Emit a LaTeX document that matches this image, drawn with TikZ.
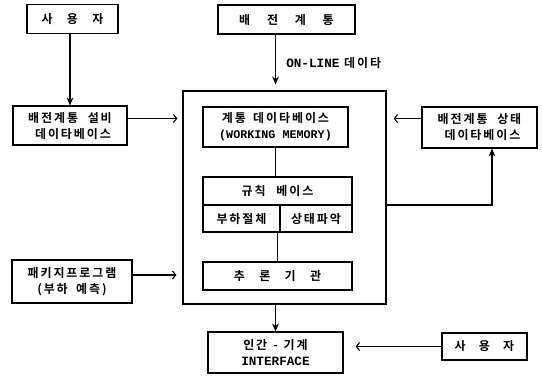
\documentclass[tikz,border=0pt]{standalone}
\usepackage{fontspec}
\setmainfont{Noto Sans CJK KR}[BoldFont={* Bold},LetterSpace=16]
\newfontfamily\mono{Liberation Mono}
\usetikzlibrary{arrows.meta,calc}
\begin{document}
\begin{tikzpicture}[x=0.75pt,y=-0.75pt,
  every node/.style={font=\fontsize{9}{12}\selectfont\bfseries},
  box/.style n args={2}{draw, line width=0.8pt, inner sep=0pt, align=center,
     minimum width=#1*0.75pt, minimum height=#2*0.75pt},
  conn/.style={line width=0.8pt},
  down/.style={conn,-{Stealth[length=6pt,width=5pt]}},
  chev/.style={conn,-{Straight Barb[length=2.5pt,width=6pt,line width=0.8pt]}}]
\useasboundingbox (0,0) rectangle (542,376);
% boxes
\node[box={91}{29}] (u1) at (72.5,19) {사\hspace{1.2em}용\hspace{1.2em}자};
\node[box={114}{39}] (eq) at (70,125.5) {배전계통\hspace{0.8em}설비\\\hspace{0.5em}데이타베이스};
\node[box={137}{29}] (pw) at (286.5,19.5) {배\hspace{1.4em}전\hspace{1.4em}계\hspace{1.4em}통};
\node[box={203}{213}] (big) at (284.5,197.5) {};
\node[box={145}{40}] (wm) at (275.5,127) {계통\hspace{0.6em}데이타베이스\\{\mono\fontsize{8.8}{12}\selectfont (WORKING MEMORY)}};
\node[box={149}{28}] (rule) at (277.5,191) {규칙\hspace{0.9em}베이스};
\node[box={77}{27}] (sub1) at (241.5,218.5) {부하절체};
\node[box={72}{27}] (sub2) at (316,218.5) {상태파악};
\node[box={149}{28}] (inf) at (277.5,276) {추\hspace{1.2em}론\hspace{1.2em}기\hspace{1.2em}관};
\node[box={135}{41}] (hmi) at (275.5,352.5) {인간\hspace{0.5em}-\hspace{0.5em}기계\\{\mono\fontsize{9.5}{12}\selectfont INTERFACE}};
\node[box={85}{27}] (u2) at (484.5,346.5) {사\hspace{1.1em}용\hspace{1.1em}자};
\node[box={115}{41}] (st) at (479.5,127.5) {배전계통\hspace{0.8em}상태\\\hspace{0.5em}데이타베이스};
\node[box={120}{43}] (pkg) at (72,281.5) {패키지프로그램\\(부하\hspace{0.7em}예측)};
\node[anchor=west, inner sep=0pt] (lbl) at (286,63) {{\mono\fontsize{9.5}{12}\selectfont ON-LINE} 데이타};
\coordinate (c1) at (492,205);
% connectors
\draw[down] (u1.south -| eq.north) -- (eq.north);
\draw[down, shorten >=4.5pt] (pw.south -| wm.south) -- (big.north -| wm.south);
\draw[chev, shorten >=3.75pt] ($(eq.east)+(0,-7)$) -- ($(eq.east -| big.west)+(0,-7)$);
\draw[chev, shorten >=4.5pt] ($(pkg.east)+(0,-6.5)$) -- ($(pkg.east -| big.west)+(0,-6.5)$);
\draw[chev, shorten >=5.25pt] ($(st.west)+(0,-9)$) -- ($(st.west -| big.east)+(0,-9)$);
\draw[down] (big.east |- c1) -- (c1) -- (c1 |- st.south);
\draw[conn] (wm.south) -- (wm.south |- rule.north);
\draw[conn] (sub1.south -| inf.north) -- (inf.north);
\draw[down] (big.south -| hmi.north) -- (hmi.north);
\draw[chev, shorten >=9pt] (u2.west) -- (u2.west -| hmi.east);
\end{tikzpicture}
\end{document}
